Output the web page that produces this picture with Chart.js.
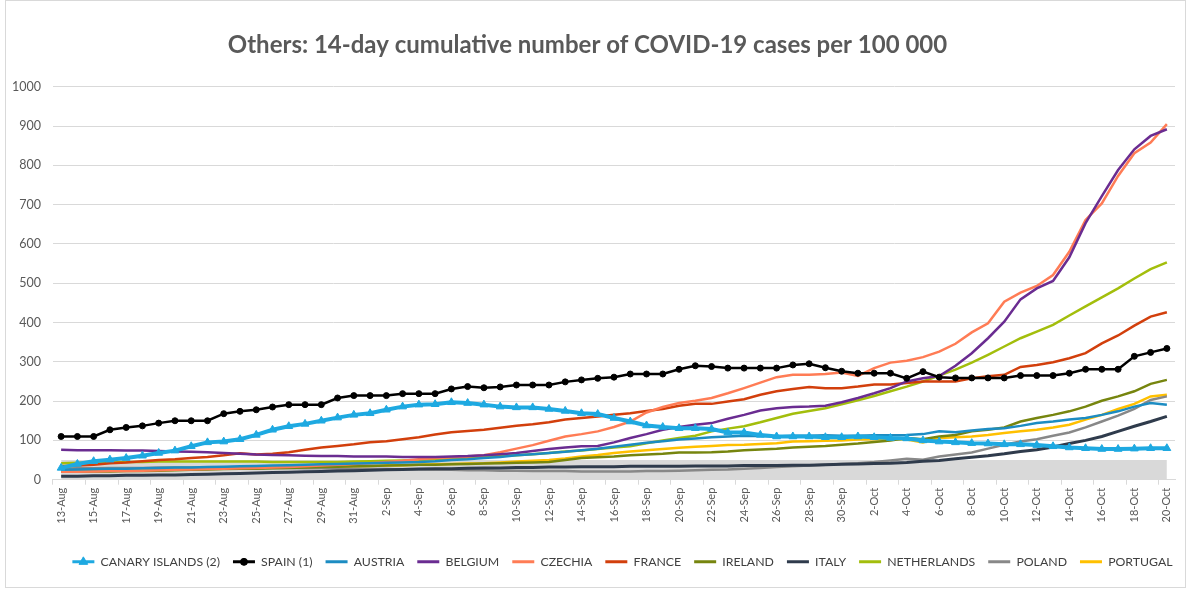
<!DOCTYPE html>
<html>
<head>
<meta charset="utf-8">
<script src="https://cdn.jsdelivr.net/npm/chart.js@4.4.0/dist/chart.umd.min.js"></script>
<style>
  body { margin: 0; background: #fff; }
  #wrap { width: 1190px; height: 589px; }
</style>
</head>
<body>
<div id="wrap"><canvas id="myChart" width="1190" height="589"></canvas></div>
<script>
const dates = [
  '13-Aug','14-Aug','15-Aug','16-Aug','17-Aug','18-Aug','19-Aug','20-Aug','21-Aug','22-Aug',
  '23-Aug','24-Aug','25-Aug','26-Aug','27-Aug','28-Aug','29-Aug','30-Aug','31-Aug',
  '1-Sep','2-Sep','3-Sep','4-Sep','5-Sep','6-Sep','7-Sep','8-Sep','9-Sep','10-Sep',
  '11-Sep','12-Sep','13-Sep','14-Sep','15-Sep','16-Sep','17-Sep','18-Sep','19-Sep','20-Sep',
  '21-Sep','22-Sep','23-Sep','24-Sep','25-Sep','26-Sep','27-Sep','28-Sep','29-Sep','30-Sep',
  '1-Oct','2-Oct','3-Oct','4-Oct','5-Oct','6-Oct','7-Oct','8-Oct','9-Oct','10-Oct',
  '11-Oct','12-Oct','13-Oct','14-Oct','15-Oct','16-Oct','17-Oct','18-Oct','19-Oct','20-Oct'
]

const yTicks = [0, 100, 200, 300, 400, 500, 600, 700, 800, 900, 1000]
const bandLevel = 50

const canary = [30,40,47,51,55,61,68,74,85,95,97,103,114,127,136,142,150,158,165,169,
  178,186,191,192,197,195,191,186,184,184,180,175,169,167,157,148,138,134,131,131,
  129,120,120,114,110,110,110,108,108,110,108,106,105,100,97,95,93,92,90,90,
  88,85,82,80,78,78,79,80,80]
const spain = [110,110,110,127,133,137,144,150,150,150,168,174,178,185,191,191,191,208,214,214,
  214,219,219,219,231,237,234,236,241,241,241,249,254,258,261,269,269,269,281,290,
  288,284,284,284,284,292,295,285,276,271,271,271,258,275,261,259,259,259,259,265,
  265,265,271,281,281,281,314,324,334]
const austria = [25,26,27,28,28,29,30,31,31,32,33,34,35,36,37,38,39,40,41,42,
  43,44,45,47,50,52,55,58,62,65,68,71,75,79,84,89,94,98,102,105,
  108,110,112,111,110,112,112,113,112,112,113,113,114,116,123,121,125,129,131,137,
  144,148,153,157,165,174,186,195,191]
const belgium = [76,75,75,75,74,74,73,72,71,70,68,66,64,63,62,61,60,60,59,59,
  59,58,58,58,59,60,62,65,68,73,78,82,85,86,95,106,116,127,134,140,
  144,155,165,176,182,185,186,188,197,208,220,233,250,258,264,290,322,360,402,459,
  487,506,566,653,722,788,841,875,892]
const czechia = [20,20,21,22,22,23,24,25,26,27,28,29,30,31,32,34,36,38,40,42,
  45,48,52,55,57,59,62,70,79,88,99,110,116,123,134,148,171,185,195,201,
  208,220,233,247,261,267,267,269,273,264,284,298,303,312,326,346,375,398,453,476,
  493,521,580,661,703,773,831,858,905]
const france = [34,36,38,42,44,47,50,52,55,58,62,67,64,66,70,76,82,86,90,95,
  98,103,108,115,121,124,127,132,137,141,146,153,157,161,165,169,175,180,188,193,
  193,199,205,216,225,231,236,233,233,237,242,242,246,250,250,250,258,263,267,287,
  292,299,309,322,347,367,392,415,426]
const ireland = [20,20,21,21,22,22,23,24,25,26,27,28,28,29,30,31,32,33,34,35,
  36,37,38,38,39,40,41,42,43,44,45,50,55,57,59,62,64,66,69,69,
  70,72,75,77,79,82,84,86,89,92,96,100,106,103,110,114,123,127,133,148,
  157,165,174,186,201,212,225,244,254]
const italy = [9,9,10,10,11,11,12,12,13,14,15,16,17,18,19,20,21,22,23,24,
  25,26,27,28,28,29,30,30,31,31,32,32,33,33,33,34,34,34,34,35,
  35,35,36,36,36,37,37,38,39,40,41,42,44,47,49,53,57,61,66,72,
  76,83,92,100,110,123,136,148,161]
const netherlands = [42,43,44,44,45,45,46,46,46,46,46,46,46,45,45,45,45,45,46,47,
  48,49,50,52,54,56,58,60,62,65,68,72,74,78,82,85,93,100,106,112,
  123,130,136,146,157,168,175,182,192,202,213,225,237,250,265,280,298,318,339,360,
  377,394,418,441,464,487,512,536,553]
const poland = [28,29,29,30,30,30,31,31,31,31,31,31,30,30,30,29,29,28,28,27,
  27,26,26,25,25,24,24,23,23,22,22,22,21,21,21,21,22,22,23,24,
  25,26,28,30,32,34,36,38,40,42,45,49,53,51,59,64,69,79,89,97,
  103,112,120,133,148,163,180,203,212]
const portugal = [28,28,28,29,29,29,29,30,30,30,30,31,31,31,32,32,33,33,34,35,
  36,37,38,39,40,41,42,44,46,48,50,54,59,63,68,72,75,78,81,84,
  86,88,89,91,93,97,98,99,100,102,103,103,102,95,106,108,110,114,119,123,
  127,133,140,153,165,180,193,212,216]

const ctx = document.getElementById('myChart')
const font = 'Lato, "Open Sans", sans-serif'
const sampleWidth = 22

function line(label, data, color, width) {
  return {
    label: label,
    data: data,
    borderColor: color,
    backgroundColor: color,
    borderWidth: width || 2.5,
    pointRadius: 0,
    pointHoverRadius: 0,
    tension: 0,
    fill: false
  }
}

const canaryDs = line('CANARY ISLANDS (2)', canary, '#1EA9E1', 4)
canaryDs.pointStyle = 'triangle'
canaryDs.pointRadius = 4.5
canaryDs.pointBorderWidth = 1

const spainDs = line('SPAIN (1)', spain, '#000000', 2.5)
spainDs.pointStyle = 'circle'
spainDs.pointRadius = 3
spainDs.pointBorderWidth = 1

const bandDs = {
  label: 'band',
  data: [{ x: dates[0], y: bandLevel }, { x: dates[dates.length - 1], y: bandLevel }],
  borderWidth: 0,
  borderColor: 'rgba(0,0,0,0)',
  backgroundColor: '#d9d9d9',
  pointRadius: 0,
  fill: 'origin',
  order: 99
}

// nudge legend right, outer frame, markers on the legend samples
const extras = {
  id: 'extras',
  afterLayout(chart) {
    chart.legend.left += 35
    chart.legend.right += 35
  },
  afterDraw(chart) {
    const c = chart.ctx
    c.save()
    c.strokeStyle = '#d9d9d9'
    c.lineWidth = 1
    c.strokeRect(5.5, 0.5, 1180, 587)
    const legend = chart.legend
    legend.legendItems.forEach((item, i) => {
      const ds = chart.data.datasets[item.datasetIndex]
      if (!ds.pointStyle) return
      const box = legend.legendHitBoxes[i]
      const x = box.left + sampleWidth / 2
      const y = box.top + box.height / 2
      c.fillStyle = ds.borderColor
      c.strokeStyle = ds.borderColor
      Chart.helpers.drawPoint(c, { pointStyle: ds.pointStyle, radius: ds.pointRadius + 0.5, borderWidth: 1, rotation: 0 }, x, y)
    })
    c.restore()
  }
}

new Chart(ctx, {
  type: 'line',
  data: {
    labels: dates,
    datasets: [
      canaryDs,
      spainDs,
      line('AUSTRIA', austria, '#1C8CC2'),
      line('BELGIUM', belgium, '#6A2C91'),
      line('CZECHIA', czechia, '#FF7C55'),
      line('FRANCE', france, '#D23F0C'),
      line('IRELAND', ireland, '#76850E'),
      line('ITALY', italy, '#2F3B4C', 3),
      line('NETHERLANDS', netherlands, '#A3BE0C'),
      line('POLAND', poland, '#888888'),
      line('PORTUGAL', portugal, '#FFC000'),
      bandDs
    ]
  },
  options: {
    responsive: false,
    animation: false,
    layout: { padding: { left: 0, right: 15, top: 0, bottom: 11 } },
    plugins: {
      title: {
        display: true,
        text: 'Others: 14-day cumulative number of COVID-19 cases per 100 000',
        color: '#595959',
        font: { family: font, size: 24, weight: 'bold' },
        padding: { top: 31, bottom: 27 }
      },
      legend: {
        position: 'bottom',
        labels: {
          color: '#404040',
          font: { family: font, size: 12.3 },
          usePointStyle: true,
          pointStyleWidth: sampleWidth,
          padding: 13,
          filter: (item) => item.text !== 'band',
          generateLabels: (chart) => {
            const items = Chart.defaults.plugins.legend.labels.generateLabels(chart)
            items.forEach(it => {
              const ds = chart.data.datasets[it.datasetIndex]
              it.pointStyle = 'line'
              it.strokeStyle = ds.borderColor
              it.lineWidth = 3
            })
            return items
          }
        }
      },
      tooltip: { enabled: false }
    },
    scales: {
      x: {
        offset: true,
        afterFit: (scale) => { scale.height += 16 },
        grid: {
          offset: true,
          drawOnChartArea: false,
          tickLength: 5,
          color: (c) => c.index % 2 === 0 ? '#d9d9d9' : 'rgba(0,0,0,0)'
        },
        border: { color: '#d9d9d9' },
        ticks: {
          autoSkip: false,
          minRotation: 90,
          maxRotation: 90,
          color: '#595959',
          font: { family: font, size: 11 },
          callback: function (value, index) {
            return index % 2 === 0 ? dates[index] : ''
          }
        }
      },
      y: {
        min: yTicks[0],
        max: yTicks[yTicks.length - 1],
        afterBuildTicks: (axis) => { axis.ticks = yTicks.map(v => ({ value: v })) },
        grid: { color: '#d9d9d9', drawTicks: false },
        border: { display: false },
        ticks: {
          padding: 12,
          color: '#595959',
          font: { family: font, size: 12.5 },
          callback: (v) => String(v)
        }
      }
    }
  },
  plugins: [extras]
})
</script>
</body>
</html>
